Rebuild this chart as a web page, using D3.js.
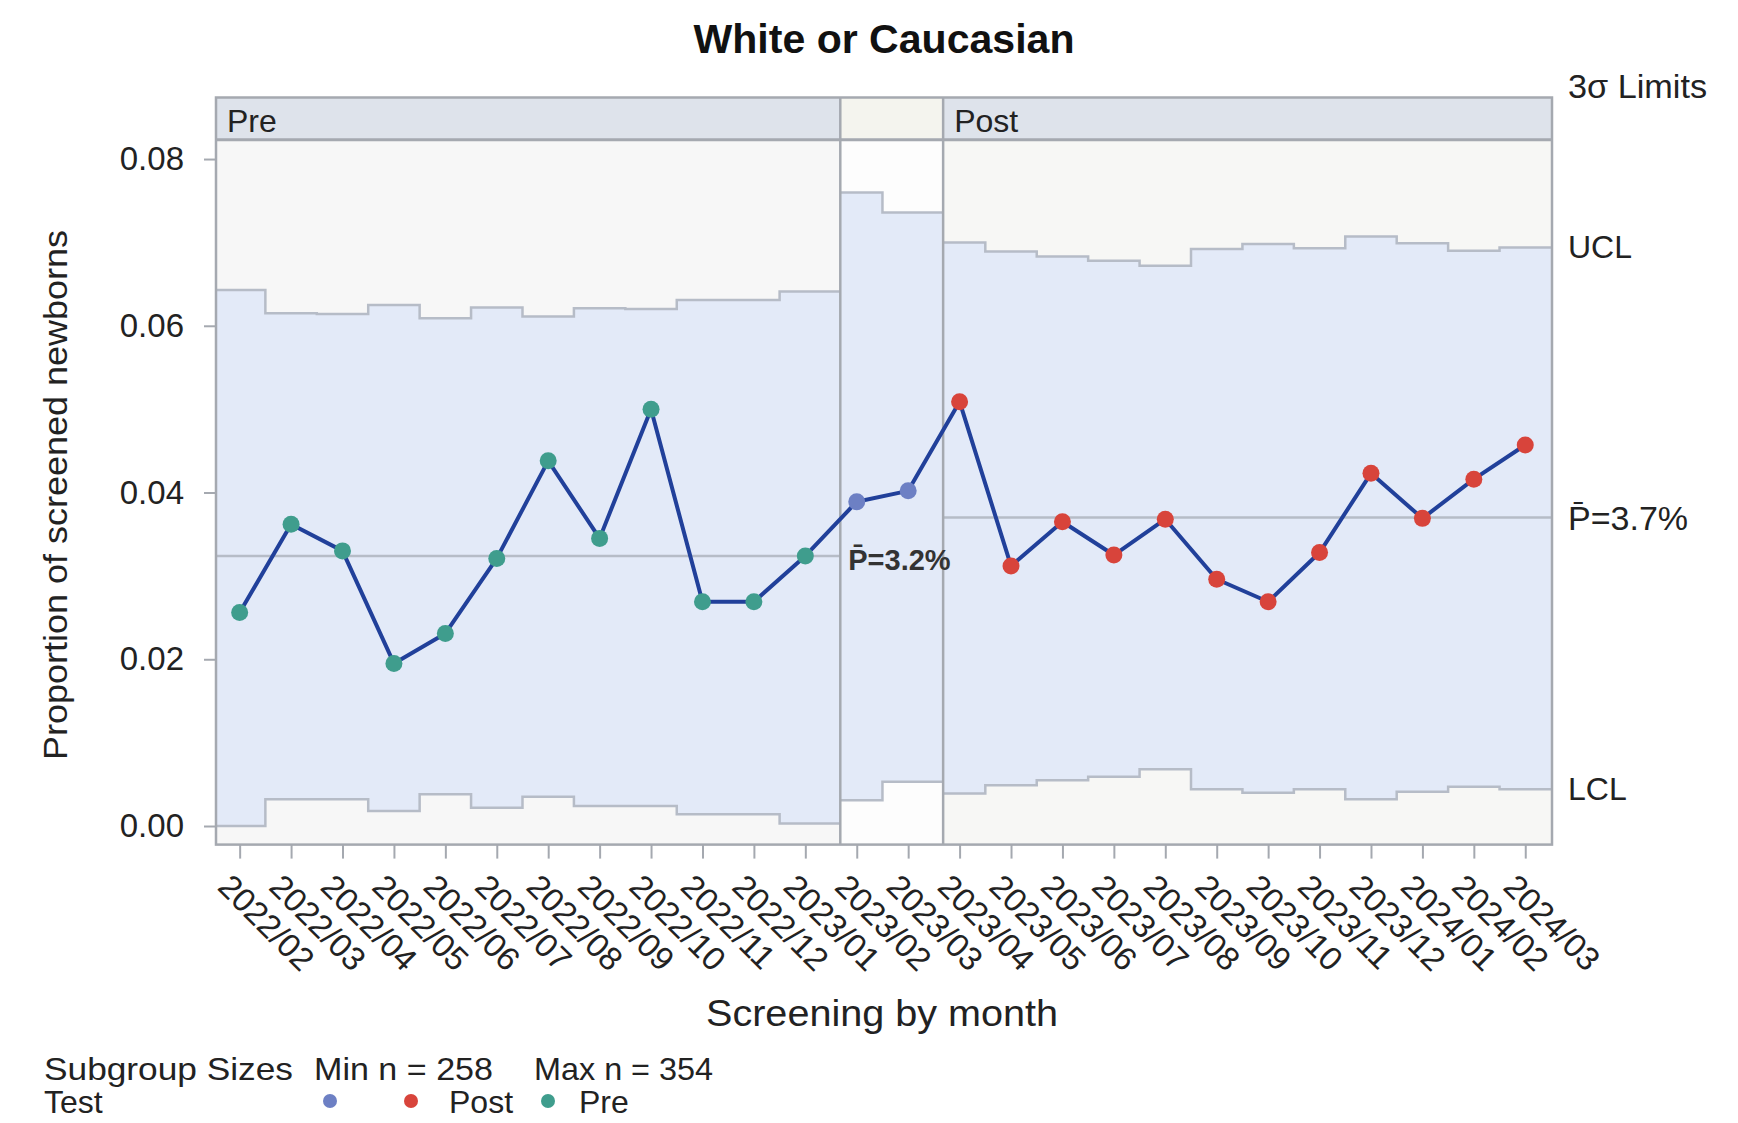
<!DOCTYPE html>
<html>
<head>
<meta charset="utf-8">
<script src="https://cdn.jsdelivr.net/npm/d3@7"></script>
<style>
  html, body { margin: 0; padding: 0; background: #ffffff; }
  svg { display: block; font-family: "Liberation Sans", Arial, sans-serif; }
</style>
</head>
<body>
<svg id="chart" width="1738" height="1123"></svg>
<script>
// ---- data: monthly proportion of screened newborns (p-chart) ----
const months = [
  "2022/02","2022/03","2022/04","2022/05","2022/06","2022/07","2022/08","2022/09",
  "2022/10","2022/11","2022/12","2023/01","2023/02","2023/03","2023/04","2023/05",
  "2023/06","2023/07","2023/08","2023/09","2023/10","2023/11","2023/12","2024/01",
  "2024/02","2024/03"
];
const phases = [
  "Pre","Pre","Pre","Pre","Pre","Pre","Pre","Pre","Pre","Pre","Pre","Pre",
  "","",
  "Post","Post","Post","Post","Post","Post","Post","Post","Post","Post","Post","Post"
];
const proportion = [
  0.0256, 0.0362, 0.0330, 0.0195, 0.0231, 0.0321, 0.0438, 0.0345, 0.0500, 0.0269,
  0.0269, 0.0324, 0.0389, 0.0402, 0.0509, 0.0312, 0.0365, 0.0325, 0.0368, 0.0296,
  0.0269, 0.0328, 0.0423, 0.0369, 0.0416, 0.0457
];
const ucl = [
  0.0643, 0.0615, 0.0614, 0.0625, 0.0609, 0.0622, 0.0611, 0.0621, 0.0620, 0.0631,
  0.0631, 0.0641, 0.0760, 0.0736, 0.0700, 0.0689, 0.0683, 0.0678, 0.0672, 0.0692,
  0.0698, 0.0693, 0.0707, 0.0699, 0.0690, 0.0694
];
const lcl = [
  0.0000, 0.0032, 0.0032, 0.0018, 0.0038, 0.0022, 0.0035, 0.0024, 0.0024, 0.0014,
  0.0014, 0.0003, 0.0031, 0.0053, 0.0039, 0.0049, 0.0055, 0.0059, 0.0068, 0.0044,
  0.0040, 0.0044, 0.0032, 0.0041, 0.0047, 0.0044
];
const centerLines = { "Pre": 0.0324, "Post": 0.0370 };
const yTicks = [0.00, 0.02, 0.04, 0.06, 0.08];
const subgroupMin = 258;
const subgroupMax = 354;
const legendPhases = ["", "Post", "Pre"];

// ---- styling ----
const markerColor = { "Pre": "#3f9d8d", "": "#6d80c4", "Post": "#d8443b" };
const headerFill = { "Pre": "#dee3eb", "": "#f4f4ee", "Post": "#dee3eb" };
const outerFill = { "Pre": "#f7f7f7", "": "#fdfdfd", "Post": "#f7f7f5" };
const bandFill = "#e3eaf8";
const limitStroke = "#b6bcc7";
const frameStroke = "#a5a9b0";
const lineColor = "#21409a";
const textColor = "#222222";

const svg = d3.select("#chart");
const frame = { left: 216, right: 1552, top: 97.5, header: 139.7, bottom: 844.6 };

const x = d3.scaleLinear().domain([-0.46, 25.52]).range([frame.left, frame.right]);
const y = d3.scaleLinear().domain([-0.00223, 0.08232]).range([frame.bottom, frame.header]);

// group consecutive months into phases; a phase closes a bit past its last month
const breakOffset = 0.68;
const groups = [];
phases.forEach((p, i) => {
  const g = groups[groups.length - 1];
  if (g && g.phase === p) g.idx.push(i);
  else groups.push({ phase: p, idx: [i] });
});
groups.forEach((g, k) => {
  g.start = k === 0 ? x.domain()[0] : groups[k - 1].end;
  g.end = k === groups.length - 1 ? x.domain()[1] : g.idx[g.idx.length - 1] + breakOffset;
});

const plot = svg.append("g");

groups.forEach(g => {
  // background outside the limits
  plot.append("rect")
    .attr("x", x(g.start)).attr("y", frame.header)
    .attr("width", x(g.end) - x(g.start)).attr("height", frame.bottom - frame.header)
    .attr("fill", outerFill[g.phase]);

  // stepped limits: each subgroup holds its limits from midpoint to midpoint,
  // the first and last ones reach the phase edges
  const steps = [];
  g.idx.forEach((i, k) => {
    const a = k === 0 ? g.start : i - 0.5;
    const b = k === g.idx.length - 1 ? g.end : i + 0.5;
    steps.push({ t: a, hi: ucl[i], lo: lcl[i] }, { t: b, hi: ucl[i], lo: lcl[i] });
  });
  plot.append("path").datum(steps)
    .attr("fill", bandFill)
    .attr("d", d3.area().x(d => x(d.t)).y0(d => y(d.lo)).y1(d => y(d.hi)));
  ["hi", "lo"].forEach(key => {
    plot.append("path").datum(steps)
      .attr("fill", "none").attr("stroke", limitStroke).attr("stroke-width", 2.5)
      .attr("d", d3.line().x(d => x(d.t)).y(d => y(d[key])));
  });

  // center line
  if (centerLines[g.phase] !== undefined) {
    plot.append("line")
      .attr("x1", x(g.start)).attr("x2", x(g.end))
      .attr("y1", y(centerLines[g.phase])).attr("y2", y(centerLines[g.phase]))
      .attr("stroke", limitStroke).attr("stroke-width", 2.5);
  }

  // phase header
  plot.append("rect")
    .attr("x", x(g.start)).attr("y", frame.top)
    .attr("width", x(g.end) - x(g.start)).attr("height", frame.header - frame.top)
    .attr("fill", headerFill[g.phase]);
  if (g.phase) {
    plot.append("text")
      .attr("x", x(g.start) + 11).attr("y", (frame.top + frame.header) / 2 + 2)
      .attr("dominant-baseline", "central")
      .attr("font-size", 32).attr("fill", textColor)
      .text(g.phase);
  }
});

// header rule, phase dividers and outer frame
plot.append("line")
  .attr("x1", frame.left).attr("x2", frame.right)
  .attr("y1", frame.header).attr("y2", frame.header)
  .attr("stroke", frameStroke).attr("stroke-width", 3);
groups.slice(1).forEach(g => {
  plot.append("line")
    .attr("x1", x(g.start)).attr("x2", x(g.start))
    .attr("y1", frame.top).attr("y2", frame.bottom)
    .attr("stroke", frameStroke).attr("stroke-width", 2.5);
});
plot.append("rect")
  .attr("x", frame.left).attr("y", frame.top)
  .attr("width", frame.right - frame.left).attr("height", frame.bottom - frame.top)
  .attr("fill", "none").attr("stroke", frameStroke).attr("stroke-width", 2.5);

// Pre center-line value label
const preGroup = groups.find(g => g.phase === "Pre");
svg.append("text")
  .attr("x", x(preGroup.end) + 8).attr("y", y(centerLines.Pre) + 4)
  .attr("dominant-baseline", "central")
  .attr("font-size", 29).attr("font-weight", "bold").attr("fill", "#333")
  .text("P\u0304=" + d3.format(".1%")(centerLines.Pre));

// data line and markers
const idx = d3.range(months.length);
svg.append("path").datum(idx)
  .attr("fill", "none").attr("stroke", lineColor).attr("stroke-width", 4)
  .attr("stroke-linejoin", "round")
  .attr("d", d3.line().x(i => x(i)).y(i => y(proportion[i])));
svg.append("g").selectAll("circle").data(idx).join("circle")
  .attr("cx", i => x(i)).attr("cy", i => y(proportion[i])).attr("r", 8.5)
  .attr("fill", i => markerColor[phases[i]]);

// y axis
const yAxis = svg.append("g").attr("transform", `translate(${frame.left},0)`)
  .call(d3.axisLeft(y).tickValues(yTicks).tickFormat(d3.format(".2f")).tickSize(12).tickPadding(20));
yAxis.select(".domain").remove();
yAxis.selectAll(".tick line").attr("stroke", frameStroke).attr("stroke-width", 2);
yAxis.selectAll(".tick text").attr("font-size", 33).attr("fill", textColor)
  .attr("font-family", "Liberation Sans, Arial, sans-serif");

// x axis with slanted month labels
const xAxis = svg.append("g").attr("transform", `translate(0,${frame.bottom})`)
  .call(d3.axisBottom(x).tickValues(idx).tickFormat(i => months[i]).tickSize(14));
xAxis.select(".domain").remove();
xAxis.selectAll(".tick line").attr("stroke", frameStroke).attr("stroke-width", 2);
xAxis.selectAll(".tick text")
  .attr("font-size", 33).attr("fill", textColor)
  .attr("font-family", "Liberation Sans, Arial, sans-serif")
  .attr("text-anchor", "start").attr("x", 0).attr("y", 0).attr("dy", 0)
  .attr("transform", "translate(-24,44) rotate(45)");

// titles
svg.append("text").attr("x", 884).attr("y", 53).attr("text-anchor", "middle")
  .attr("font-size", 41).attr("font-weight", "bold").attr("fill", "#111")
  .attr("textLength", 381).attr("lengthAdjust", "spacingAndGlyphs")
  .text("White or Caucasian");
svg.append("text").attr("x", 882).attr("y", 1026).attr("text-anchor", "middle")
  .attr("font-size", 36).attr("fill", textColor)
  .attr("textLength", 352).attr("lengthAdjust", "spacingAndGlyphs")
  .text("Screening by month");
svg.append("text").attr("transform", "translate(67,495) rotate(-90)")
  .attr("text-anchor", "middle").attr("font-size", 34).attr("fill", textColor)
  .attr("textLength", 530).attr("lengthAdjust", "spacingAndGlyphs")
  .text("Proportion of screened newborns");

// limit labels on the right
const lastI = months.length - 1;
const rightX = 1568;
svg.append("text").attr("x", rightX).attr("y", 98).attr("font-size", 33).attr("fill", textColor)
  .attr("textLength", 139).attr("lengthAdjust", "spacingAndGlyphs")
  .text("3\u03c3 Limits");
[["UCL", ucl[lastI]], ["LCL", lcl[lastI]]].forEach(([t, v]) => {
  svg.append("text").attr("x", rightX).attr("y", y(v)).attr("dominant-baseline", "central")
    .attr("font-size", 32).attr("fill", textColor).text(t);
});
svg.append("text").attr("x", rightX).attr("y", y(centerLines.Post)).attr("dominant-baseline", "central")
  .attr("font-size", 34).attr("fill", textColor)
  .text("P\u0304=" + d3.format(".1%")(centerLines.Post));

// legend
const legend = svg.append("g").attr("font-size", 32).attr("fill", textColor);
legend.append("text").attr("x", 44).attr("y", 1080)
  .attr("textLength", 249).attr("lengthAdjust", "spacingAndGlyphs").text("Subgroup Sizes");
legend.append("text").attr("x", 314).attr("y", 1080)
  .attr("textLength", 179).attr("lengthAdjust", "spacingAndGlyphs").text(`Min n = ${subgroupMin}`);
legend.append("text").attr("x", 534).attr("y", 1080)
  .attr("textLength", 179).attr("lengthAdjust", "spacingAndGlyphs").text(`Max n = ${subgroupMax}`);
legend.append("text").attr("x", 44).attr("y", 1113).text("Test");
const legendX = { "": 330, "Post": 411, "Pre": 548 };
legendPhases.forEach(p => {
  legend.append("circle").attr("cx", legendX[p]).attr("cy", 1101).attr("r", 7)
    .attr("fill", markerColor[p]);
  if (p) legend.append("text").attr("x", legendX[p] + 38 - (p === "Pre" ? 7 : 0)).attr("y", 1113).text(p);
});
</script>
</body>
</html>
